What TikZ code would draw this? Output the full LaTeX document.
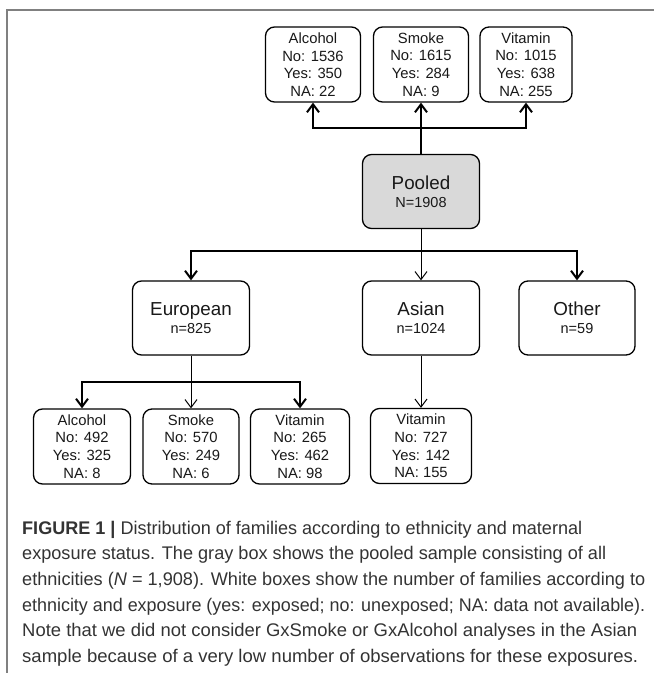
\documentclass[tikz,border=0pt]{standalone}
\usepackage{graphicx}
\usepackage{fontspec}
\setmainfont{Liberation Sans}
\usetikzlibrary{arrows.meta}
\definecolor{pooledfill}{HTML}{D9D9D9}
\definecolor{framegray}{HTML}{808080}
\definecolor{captext}{HTML}{333333}
\newcommand\capfit[2]{\resizebox{#1}{\height}{#2}}
\begin{document}
\begin{tikzpicture}[x=1pt,y=-1pt,
  box/.style={draw=black, line width=1.3pt, rounded corners=9pt, inner sep=0pt, align=center, fill=white, text=black!90},
  smallbox/.style={box, minimum width=95pt, minimum height=75pt, font=\fontsize{14.8}{17.6}\selectfont},
  bigbox/.style={box, minimum width=117pt, minimum height=74pt, font=\fontsize{18.8}{18.4}\selectfont},
  thk/.style={line width=2pt},
  thn/.style={line width=1pt},
  tip/.style={-{Straight Barb[length=8pt,width=12pt]}},
  captionline/.style={anchor=base west, inner sep=0pt, text=captext, font=\fontsize{18.3}{20}\selectfont},
  frameline/.style={draw=framegray, line width=1.4pt},
 ]
\useasboundingbox (0,0) rectangle (654,673);
% frame
\coordinate (fa) at (7,673);
\coordinate (fb) at (7,10);
\coordinate (fc) at (654,10);
\draw[frameline] (fa) -- (fb) -- (fc);

% top exposure boxes
\node[smallbox] (talc) at (313,64.5) {Alcohol\\No: 1536\\Yes: 350\\NA: 22};
\node[smallbox] (tsmk) at (421,64.5) {Smoke\\No: 1615\\Yes: 284\\NA: 9};
\node[smallbox, minimum width=92pt] (tvit) at (526,64.5) {Vitamin\\No: 1015\\Yes: 638\\NA: 255};

% pooled
\node[bigbox, fill=pooledfill] (pool) at (421,191.5) {Pooled\\{\fontsize{14.5}{18.4}\selectfont N=1908}};

% ethnicities
\node[bigbox] (euro) at (191,318) {European\\{\fontsize{14.5}{18.4}\selectfont n=825}};
\node[bigbox] (asia) at (421,318) {Asian\\{\fontsize{14.5}{18.4}\selectfont n=1024}};
\node[bigbox, minimum width=116pt] (oth) at (577,318) {Other\\{\fontsize{14.5}{18.4}\selectfont n=59}};

% bottom exposure boxes
\node[smallbox, minimum width=97pt] (balc) at (82,446.5) {Alcohol\\No: 492\\Yes: 325\\NA: 8};
\node[smallbox, minimum width=96pt] (bsmk) at (191,446.5) {Smoke\\No: 570\\Yes: 249\\NA: 6};
\node[smallbox, minimum width=99pt] (bvit) at (300,446.5) {Vitamin\\No: 265\\Yes: 462\\NA: 98};
\node[smallbox, minimum width=101pt] (bavit) at (421,446) {Vitamin\\No: 727\\Yes: 142\\NA: 155};

% connectors: pooled -> exposures
\coordinate (j1) at (421,128);
\draw[thk] (pool.north) -- (j1);
\draw[thk,tip] (j1) -| (talc.south);
\draw[thk,tip] (j1) -- (tsmk.south);
\draw[thk,tip] (j1) -| (tvit.south);

% pooled -> ethnicities
\coordinate (j2) at (421,251);
\draw[thn] (pool.south) -- (j2);
\draw[thn,tip] (j2) -- (asia.north);
\draw[thk,tip] (j2) -| (euro.north);
\draw[thk,tip] (j2) -| (oth.north);

% european -> exposures
\coordinate (j3) at (191,382);
\draw[thn] (euro.south) -- (j3);
\draw[thn,tip] (j3) -- (bsmk.north);
\draw[thk,tip] (j3) -| (balc.north);
\draw[thk,tip] (j3) -| (bvit.north);

% asian -> vitamin
\draw[thn,tip] (asia.south) -- (bavit.north);

% caption
\node[captionline] (c1) at (22,534) {\capfit{560pt}{\textbf{FIGURE 1 |} Distribution of families according to ethnicity and maternal}};
\node[captionline] (c2) at (22,559.7) {\capfit{584pt}{exposure status. The gray box shows the pooled sample consisting of all}};
\node[captionline] (c3) at (22,585.4) {\capfit{623pt}{ethnicities (\textit{N} = 1,908). White boxes show the number of families according to}};
\node[captionline] (c4) at (22,611.1) {\capfit{623pt}{ethnicity and exposure (yes: exposed; no: unexposed; NA: data not available).}};
\node[captionline] (c5) at (22,636.8) {\capfit{615pt}{Note that we did not consider GxSmoke or GxAlcohol analyses in the Asian}};
\node[captionline] (c6) at (22,662.5) {\capfit{616pt}{sample because of a very low number of observations for these exposures.}};
\end{tikzpicture}
\end{document}
